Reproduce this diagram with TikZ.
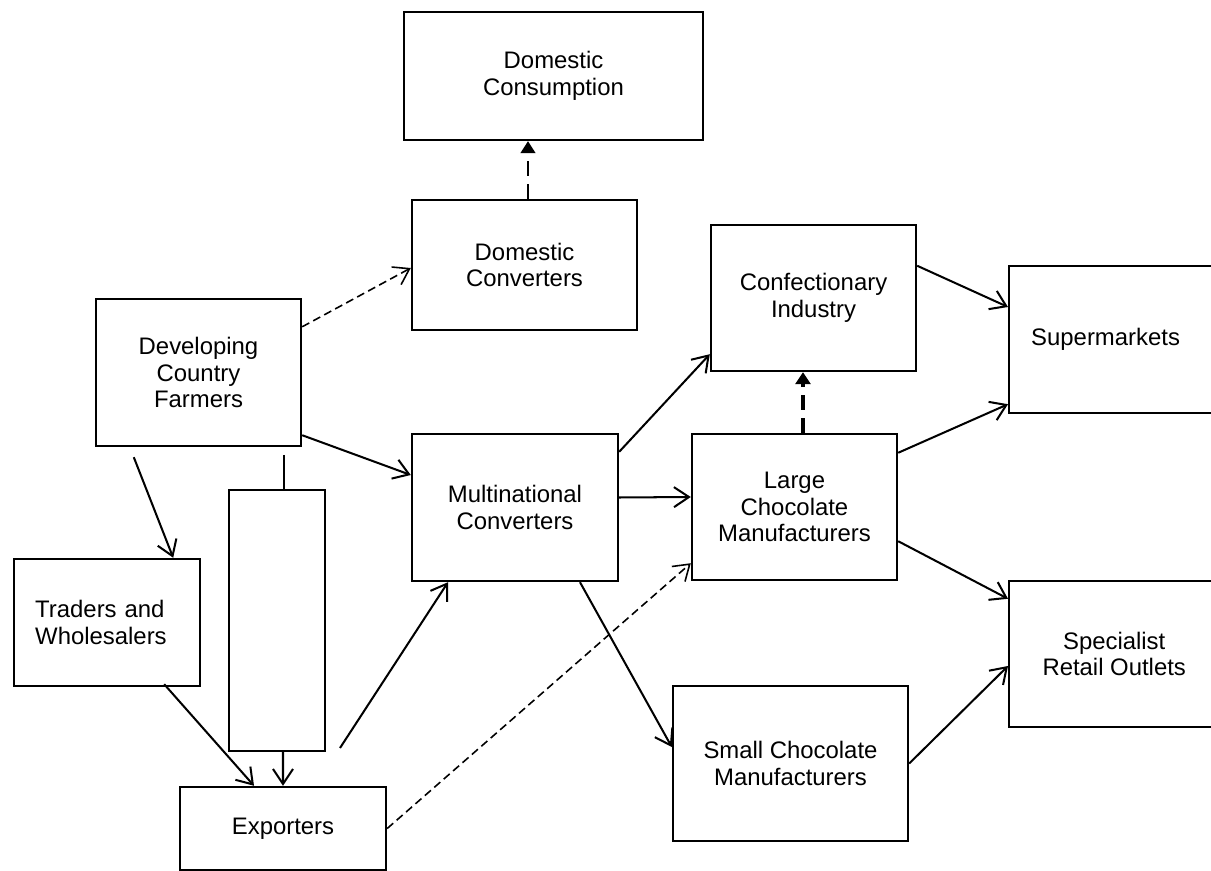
\documentclass[tikz,border=0pt]{standalone}
\usepackage{fontspec}
\setmainfont{Liberation Sans}
\usepackage{tikz}
\usetikzlibrary{arrows.meta}

\begin{document}
\begin{tikzpicture}[x=0.02cm, y=-0.02cm,
    box/.style={draw, line width=1.4pt, align=center,
      font=\fontsize{13.6}{15.3}\selectfont},
    flow/.style={line width=1.15pt, -{Straight Barb[length=3mm,width=4mm]}},
    dflow/.style={flow, dash pattern=on 1.6mm off 0.9mm},
    up/.style={-{Triangle[length=2.4mm,width=3mm]}, dash pattern=on 3mm off 1.6mm}]
  \useasboundingbox (0,0) rectangle (1211,871);
  % the boxes
  \node [box, minimum width=5.98cm, minimum height=2.56cm] (cons) at (553.5,76) {Domestic\\Consumption};
  \node [box, minimum width=4.5cm, minimum height=2.6cm] (dconv) at (524.5,265) {Domestic\\Converters};
  \node [box, minimum width=4.1cm, minimum height=2.94cm] (farm) at (198.5,372.5) {Developing\\Country\\Farmers};
  \node [box, minimum width=4.1cm, minimum height=2.92cm] (conf) at (813.5,298) {Confectionary\\Industry};
  \node [box, anchor=west, align=left, inner xsep=0.44cm, text width=3.72cm,
    minimum height=2.94cm] (super) at (1008,339.5) {Supermarkets};
  \node [box, anchor=west, minimum width=4.2cm, minimum height=2.92cm] (spec) at (1008,654) {Specialist\\Retail Outlets};
  \node [box, minimum width=4.12cm, minimum height=2.94cm] (multi) at (515,507.5) {Multinational\\Converters};
  \node [box, minimum width=4.1cm, minimum height=2.92cm] (large) at (794.5,507) {Large\\Chocolate\\Manufacturers};
  \node [box, minimum width=4.7cm, minimum height=3.1cm] (small) at (790.5,763.5) {Small Chocolate\\Manufacturers};
  \node [box, anchor=west, align=left, inner xsep=0.42cm, text width=2.88cm,
    minimum height=2.54cm] (trad) at (13,622.5) {Traders and\\Wholesalers};
  \node [box, minimum width=1.92cm, minimum height=5.22cm] (tall) at (277,620.5) {};
  \node [box, minimum width=4.12cm, minimum height=1.66cm] (expo) at (283,828.5) {Exporters};
  \coordinate (ex1) at (340,748);

  % dashed flows up
  \coordinate (dc1) at ([xshift=0.07cm]dconv.north);
  \draw [up, line width=0.8pt] (dc1) -- (dc1 |- cons.south);
  \coordinate (lc1) at ([xshift=0.17cm]large.north);
  \draw [up, line width=2pt] (lc1) -- (lc1 |- conf.south);

  % farmers
  \draw [dflow, line width=0.9pt] ([yshift=-0.58cm]farm.north east) -- ([yshift=-0.06cm]dconv.west);
  \draw [flow] ([yshift=0.24cm]farm.south east) -- ([yshift=0.65cm]multi.west);
  \draw [flow] ([xshift=0.78cm,yshift=-0.2cm]farm.south west) -- ([xshift=1.32cm]trad.north);
  \draw [line width=1.15pt] ([xshift=0.14cm,yshift=0.68cm]tall.north) -- ([xshift=0.14cm]tall.north);

  % towards the exporters
  \draw [flow] ([xshift=1.14cm,yshift=0.06cm]trad.south) -- ([xshift=-0.58cm]expo.north);
  \draw [flow] ([xshift=0.12cm]tall.south) -- (expo.north);
  \draw [flow] (ex1) -- ([xshift=-1.34cm]multi.south);
  \draw [dflow, line width=0.9pt] (expo.east) -- ([yshift=0.36cm]large.south west);

  % converters and manufacturers
  \draw [flow] ([yshift=0.2cm]multi.east) -- ([yshift=0.2cm]large.west);
  \draw [flow] ([yshift=-0.38cm]multi.north east) -- ([yshift=0.36cm]conf.south west);
  \draw [flow] ([xshift=1.3cm]multi.south) -- ([yshift=0.33cm]small.west);

  % retail
  \draw [flow] ([yshift=-0.84cm]conf.north east) -- ([yshift=0.65cm]super.west);
  \draw [flow] ([yshift=-0.4cm]large.north east) -- ([yshift=0.2cm]super.south west);
  \draw [flow] ([yshift=0.8cm]large.south east) -- ([yshift=-0.38cm]spec.north west);
  \draw [flow] (small.east) -- ([yshift=-0.24cm]spec.west);
\end{tikzpicture}
\end{document}
